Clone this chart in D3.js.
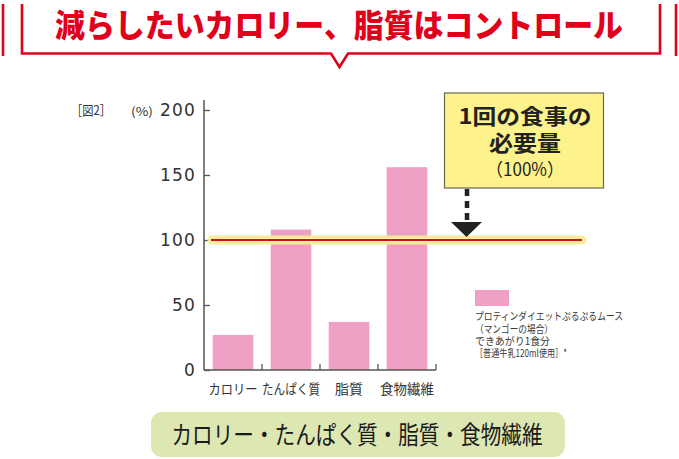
<!DOCTYPE html>
<html><head><meta charset="utf-8">
<script src="https://cdn.jsdelivr.net/npm/d3@7"></script>
<style>
html,body{margin:0;padding:0;background:#fff;}
svg{display:block;font-family:"Noto Sans CJK JP","Noto Sans",sans-serif;}
</style></head>
<body>
<script>
const categories = ["カロリー", "たんぱく質", "脂質", "食物繊維"];
const values = [27, 108, 37, 156];
const referenceValue = 100;
const yTicks = [0, 50, 100, 150, 200];
const titleText = "減らしたいカロリー、脂質はコントロール";
const calloutLines = ["1回の食事の", "必要量", "（100%）"];
const legendLines = ["プロティンダイエットぷるぷるムース", "（マンゴーの場合）", "できあがり1食分", "［普通牛乳120ml使用］*"];
const footerText = "カロリー・たんぱく質・脂質・食物繊維";

const W = 679, H = 459;
const svg = d3.select("body").append("svg").attr("width", W).attr("height", H);

// Title and bracket
const red = "#e0001a";
svg.append("text").attr("x", 55).attr("y", 37).attr("fill", red)
  .attr("font-size", 32).attr("font-weight", 900)
  .attr("textLength", 568).attr("lengthAdjust", "spacingAndGlyphs")
  .text(titleText);
const br = svg.append("g").attr("fill", "none").attr("stroke", red).attr("stroke-width", 2.6);
br.append("line").attr("x1", 3).attr("x2", 3).attr("y1", 4).attr("y2", 56);
br.append("line").attr("x1", 676).attr("x2", 676).attr("y1", 4).attr("y2", 56);
br.append("path").attr("d", "M22,4 V53.5 H331 L339.5,67 L348,53.5 H660 V4");

// Scales
const x = d3.scaleBand().domain(categories).range([204, 436]).paddingInner(0.3).paddingOuter(0.15);
const y = d3.scaleLinear().domain([0, 200]).range([370, 110]);

// Bars
svg.append("g").selectAll("rect").data(values).join("rect")
  .attr("x", (d, i) => x(categories[i]))
  .attr("width", x.bandwidth())
  .attr("y", d => y(d))
  .attr("height", d => y(0) - y(d))
  .attr("fill", "#f0a0c4");

// Y axis
const axisColor = "#555";
const yAxis = svg.append("g").attr("transform", "translate(204,0)")
  .call(d3.axisLeft(y).tickValues(yTicks).tickSizeInner(-6).tickSizeOuter(0).tickPadding(8));
yAxis.select(".domain").remove();
yAxis.append("line").attr("x1", 0).attr("x2", 0).attr("y1", 100).attr("y2", 370).attr("stroke", axisColor).attr("stroke-width", 1.5);
yAxis.selectAll(".tick line").attr("stroke", axisColor).attr("stroke-width", 1.3);
yAxis.selectAll(".tick text").attr("fill", "#333").attr("font-size", 17)
  .attr("font-family", "DejaVu Sans").attr("letter-spacing", "1.2px");

// X axis
const xAxisG = svg.append("g");
xAxisG.append("line").attr("x1", 204).attr("x2", 436).attr("y1", y(0)).attr("y2", y(0)).attr("stroke", axisColor).attr("stroke-width", 1.5);
xAxisG.selectAll("line.tk").data(categories).join("line").attr("class", "tk")
  .attr("x1", c => x(c) + x.bandwidth() + x.step() * x.paddingInner() / 2)
  .attr("x2", c => x(c) + x.bandwidth() + x.step() * x.paddingInner() / 2)
  .attr("y1", y(0)).attr("y2", y(0) - 6).attr("stroke", axisColor).attr("stroke-width", 1.3);
const labelLens = [49, 58, 28, 54];
xAxisG.selectAll("text").data(categories).join("text")
  .attr("x", c => x(c) + x.bandwidth() / 2).attr("y", 394)
  .attr("text-anchor", "middle").attr("font-size", 13.5).attr("fill", "#333")
  .attr("textLength", (c, i) => labelLens[i]).attr("lengthAdjust", "spacingAndGlyphs")
  .text(c => c);

// Axis captions
svg.append("text").attr("x", 71).attr("y", 115).attr("font-size", 13).attr("fill", "#333")
  .attr("textLength", 40).attr("lengthAdjust", "spacingAndGlyphs").text("［図2］");
svg.append("text").attr("x", 131).attr("y", 116).attr("font-size", 12).attr("fill", "#333")
  .attr("textLength", 22).attr("lengthAdjust", "spacingAndGlyphs").text("(%)");

// Reference line
svg.append("line").attr("x1", 212).attr("x2", 582).attr("y1", y(referenceValue)).attr("y2", y(referenceValue))
  .attr("stroke", "#fcec9a").attr("stroke-width", 9).attr("stroke-linecap", "round");
svg.append("line").attr("x1", 211).attr("x2", 582).attr("y1", y(referenceValue)).attr("y2", y(referenceValue))
  .attr("stroke", "#c81428").attr("stroke-width", 1.8);

// Callout
svg.append("rect").attr("x", 444.5).attr("y", 93).attr("width", 159).attr("height", 95)
  .attr("fill", "#fdf28c").attr("stroke", "#6b6650").attr("stroke-width", 1.2);
const cx = 525;
svg.append("text").attr("x", cx).attr("y", 124).attr("text-anchor", "middle").attr("font-size", 21).attr("font-weight", 700)
  .attr("fill", "#222").attr("textLength", 133).attr("lengthAdjust", "spacingAndGlyphs").text(calloutLines[0]);
svg.append("text").attr("x", cx).attr("y", 151).attr("text-anchor", "middle").attr("font-size", 22).attr("font-weight", 700)
  .attr("fill", "#222").attr("textLength", 72).attr("lengthAdjust", "spacingAndGlyphs").text(calloutLines[1]);
svg.append("text").attr("x", cx).attr("y", 176).attr("text-anchor", "middle").attr("font-size", 18)
  .attr("fill", "#222").attr("textLength", 78).attr("lengthAdjust", "spacingAndGlyphs").text(calloutLines[2]);

// Dashed arrow
svg.append("line").attr("x1", 467).attr("x2", 467).attr("y1", 189).attr("y2", 223)
  .attr("stroke", "#222").attr("stroke-width", 4.5).attr("stroke-dasharray", "7,5");
const ty = y(referenceValue) - 3;
svg.append("path").attr("d", `M451,${ty - 15} H482 L466.5,${ty} Z`).attr("fill", "#222");

// Legend
svg.append("rect").attr("x", 475).attr("y", 290).attr("width", 34).attr("height", 16).attr("fill", "#f0a0c4");
const legendLens = [148, 78, 75, 92];
svg.append("g").selectAll("text").data(legendLines).join("text")
  .attr("x", 475).attr("y", (d, i) => [320, 333, 345, 357][i])
  .attr("font-size", 10.5).attr("fill", "#3a3a3a")
  .attr("textLength", (d, i) => legendLens[i]).attr("lengthAdjust", "spacingAndGlyphs")
  .text(d => d);

// Footer box
svg.append("rect").attr("x", 151).attr("y", 412).attr("width", 414).attr("height", 45).attr("rx", 11)
  .attr("fill", "#dce7b2");
svg.append("text").attr("x", 357).attr("y", 444)
  .attr("text-anchor", "middle").attr("font-size", 24.5).attr("fill", "#1a1a1a")
  .attr("textLength", 371).attr("lengthAdjust", "spacingAndGlyphs").text(footerText);
</script>
</body></html>
